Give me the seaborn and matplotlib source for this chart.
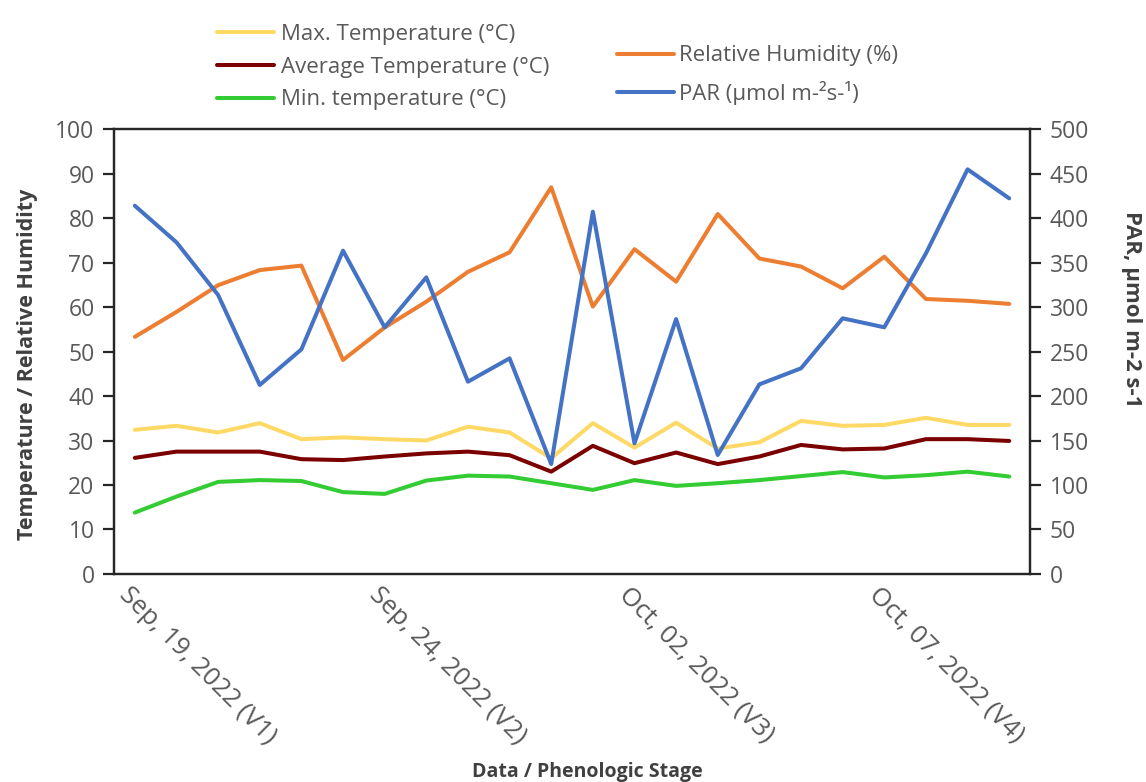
import numpy as np
import pandas as pd
import matplotlib
matplotlib.use("Agg")
import matplotlib.pyplot as plt
import seaborn as sns

# Daily weather series over the trial (22 observation days)
max_temp = [32.4, 33.3, 31.8, 33.9, 30.3, 30.7, 30.3, 30.0, 33.1, 31.8, 26.0,
            33.9, 28.4, 34.0, 28.2, 29.6, 34.4, 33.3, 33.5, 35.1, 33.5, 33.5]
avg_temp = [26.1, 27.5, 27.5, 27.5, 25.8, 25.6, 26.4, 27.1, 27.5, 26.7, 23.0,
            28.8, 24.9, 27.3, 24.7, 26.4, 29.0, 28.0, 28.2, 30.3, 30.3, 29.9]
min_temp = [13.8, 17.4, 20.7, 21.1, 20.9, 18.4, 18.0, 21.0, 22.1, 21.9, 20.4,
            18.9, 21.1, 19.8, 20.4, 21.1, 22.0, 22.9, 21.7, 22.2, 23.0, 21.9]
rel_humidity = [53.3, 58.9, 64.9, 68.3, 69.3, 48.1, 55.4, 61.2, 67.9, 72.3, 86.9,
                60.1, 73.0, 65.7, 80.9, 70.9, 69.1, 64.2, 71.3, 61.8, 61.4, 60.7]
par = [413.8, 372.7, 313.5, 212.4, 252.4, 363.3, 277.2, 333.3, 216.1, 242.3, 123.6,
       407.1, 146.8, 286.5, 133.7, 213.1, 231.1, 287.3, 277.2, 360.3, 454.7, 422.1]

stage_labels = ["Sep, 19, 2022 (V1)", "Sep, 24, 2022 (V2)",
                "Oct, 02, 2022 (V3)", "Oct, 07, 2022 (V4)"]
stage_days = [0, 6, 12, 18]

n = len(max_temp)
df = pd.DataFrame({
    "day": np.arange(n) + 0.5,
    "max": max_temp, "avg": avg_temp, "min": min_temp,
    "rh": rel_humidity, "par": par,
})

sns.set_style("white")
plt.rcParams["font.family"] = ["Open Sans", "DejaVu Sans"]

TXT = "#595959"
LBL = "#404040"
AX = "#262626"

fig = plt.figure(figsize=(11.46, 7.82), dpi=100)
ax = fig.add_axes([0.0995, 0.266, 0.7993, 0.569])
ax2 = ax.twinx()

lw = 2.9
sns.lineplot(data=df, x="day", y="max", ax=ax, color="#FFD966", lw=lw,
             label="Max. Temperature (°C)")
sns.lineplot(data=df, x="day", y="avg", ax=ax, color="#7B0000", lw=lw,
             label="Average Temperature (°C)")
sns.lineplot(data=df, x="day", y="min", ax=ax, color="#33CC33", lw=lw,
             label="Min. temperature (°C)")
sns.lineplot(data=df, x="day", y="rh", ax=ax, color="#ED7D31", lw=lw,
             label="Relative Humidity (%)")
sns.lineplot(data=df, x="day", y="par", ax=ax2, color="#4472C4", lw=lw,
             label="PAR (µmol m-²s-¹)")

h1, l1 = ax.get_legend_handles_labels()
h2, l2 = ax2.get_legend_handles_labels()
for a in (ax, ax2):
    if a.get_legend() is not None:
        a.get_legend().remove()

ax.set_xlim(0, n)
ax.set_ylim(0, 100)
ax2.set_ylim(0, 500)
ax.set_yticks(np.arange(0, 101, 10))
ax2.set_yticks(np.arange(0, 501, 50))
ax.set_xticks(stage_days)
ax.set_xticklabels(stage_labels, rotation=-45, ha="left", va="bottom",
                   rotation_mode="anchor", fontsize=18.5)

for a in (ax, ax2):
    for s in a.spines.values():
        s.set_color(AX)
        s.set_linewidth(1.6)
    a.tick_params(axis="both", colors=AX, labelcolor=TXT,
                  length=8, width=1.6, direction="out")
ax.tick_params(axis="x", pad=11)
ax.tick_params(axis="y", pad=6, left=True, labelsize=16.5)
ax2.tick_params(axis="y", pad=6, right=True, labelsize=16.5)

ax.set_xlabel("Data / Phenologic Stage", fontsize=14, fontweight="bold",
              color=LBL, va="center")
ax.xaxis.set_label_coords(0.517, -0.445)
ax.set_ylabel("Temperature / Relative Humidity", fontsize=15.5,
              fontweight="bold", color=LBL, va="center")
ax.yaxis.set_label_coords(-0.095, 0.472)
ax2.set_ylabel("PAR, µmol m-2 s-1", fontsize=16, fontweight="bold",
               color=LBL, rotation=270, va="center")
ax2.yaxis.set_label_coords(1.111, 0.596)

leg_kw = dict(frameon=False, fontsize=16, labelcolor=TXT, handlelength=2.6,
              borderaxespad=0, borderpad=0)
fig.legend([h1[0], h1[1], h1[2]], [l1[0], l1[1], l1[2]], loc="upper left",
           bbox_to_anchor=(0.189, 0.969), labelspacing=0.52,
           handletextpad=0.3, **leg_kw)
fig.legend([h1[3], h2[0]], [l1[3], l2[0]], loc="upper left",
           bbox_to_anchor=(0.538, 0.942), labelspacing=0.65,
           handletextpad=0.22, **leg_kw)

fig.savefig("out.png", dpi=100, facecolor="white")
